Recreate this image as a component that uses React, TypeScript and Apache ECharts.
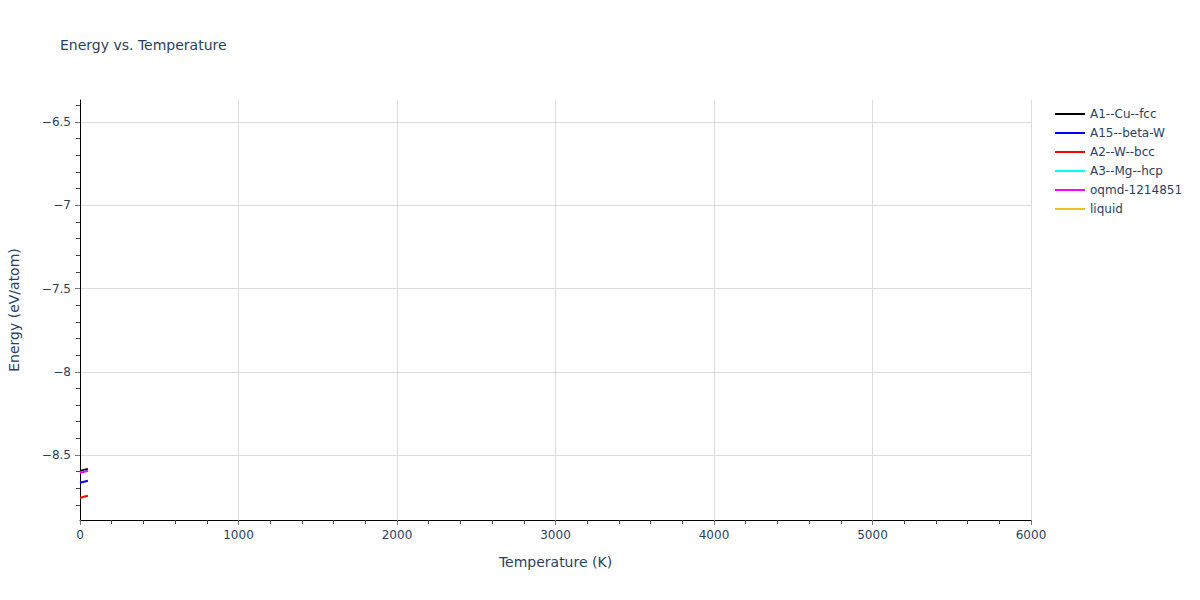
import React, { useEffect, useRef } from "react";
import * as echarts from "echarts";

const seriesNames = ["A1--Cu--fcc", "A15--beta-W", "A2--W--bcc", "A3--Mg--hcp", "oqmd-1214851", "liquid"];
const seriesColors = ["#000000", "#0000ff", "#ff0000", "#00ffff", "#ff00ff", "#f0c020"];
const temps = [0, 25, 50];
const a1Energy = [-8.595, -8.589, -8.583];
const a15Energy = [-8.666, -8.660, -8.654];
const a2Energy = [-8.756, -8.750, -8.744];
const a3Energy = [-8.606, -8.600, -8.594];
const oqmdEnergy = [-8.606, -8.600, -8.594];
const liquidEnergy: number[] = [];

const yMajorTicks = [-8.5, -8, -7.5, -7, -6.5];
const yMinorTicks = [-8.8, -8.7, -8.6, -8.4, -8.3, -8.2, -8.1, -7.9, -7.8, -7.7, -7.6, -7.4, -7.3, -7.2, -7.1, -6.9, -6.8, -6.7, -6.6, -6.4];

const FONT = '"DejaVu Sans", Verdana, sans-serif';
const TXT = "#2a3f5f";

export default function App() {
  const ref = useRef<HTMLDivElement>(null);
  useEffect(() => {
    if (!ref.current) return;
    const chart = echarts.init(ref.current, null, { renderer: "svg" });
    const values = [a1Energy, a15Energy, a2Energy, a3Energy, oqmdEnergy, liquidEnergy];
    const order = [0, 1, 2, 3, 4, 5];
    chart.setOption({
      animation: false,
      textStyle: { fontFamily: FONT },
      title: {
        text: "Energy vs. Temperature",
        left: 55,
        top: 33,
        textStyle: { fontFamily: FONT, fontSize: 14, fontWeight: "normal", color: TXT },
      },
      legend: {
        orient: "vertical",
        left: 1050,
        top: 102,
        icon: "rect",
        itemWidth: 30,
        itemHeight: 2,
        itemGap: 5,
        textStyle: { fontFamily: FONT, fontSize: 12, color: TXT, lineHeight: 14 },
        data: seriesNames,
      },
      grid: { left: 80, right: 169, top: 100, bottom: 80, outerBoundsMode: "none", containLabel: false },
      xAxis: {
        type: "value",
        min: 0,
        max: 6000,
        interval: 1000,
        name: "Temperature (K)",
        nameLocation: "middle",
        nameGap: 35,
        nameTextStyle: { fontFamily: FONT, fontSize: 14, color: TXT },
        axisLine: { show: true, onZero: false, lineStyle: { color: "#000", width: 1 } },
        axisTick: { show: true, length: 5, lineStyle: { color: "#777" } },
        minorTick: { show: true, splitNumber: 5, length: 4, lineStyle: { color: "#444" } },
        axisLabel: { margin: 9, fontFamily: FONT, fontSize: 12, color: TXT, formatter: (v: number) => String(v) },
        splitLine: { show: true, lineStyle: { color: "#dcdcdc", width: 1 } },
      },
      yAxis: [
        {
          type: "value",
          min: -8.89,
          max: -6.368,
          name: "Energy (eV/atom)",
          nameLocation: "middle",
          nameGap: 59,
          nameTextStyle: { fontFamily: FONT, fontSize: 14, color: TXT },
          axisLine: { show: true, onZero: false, lineStyle: { color: "#000", width: 1 } },
          axisTick: { show: true, length: 5, customValues: yMajorTicks, lineStyle: { color: "#777" } },
          axisLabel: {
            margin: 9,
            fontFamily: FONT,
            fontSize: 12,
            color: TXT,
            customValues: yMajorTicks,
            formatter: (v: number) => String(v).replace("-", "\u2212"),
          },
          splitLine: { show: true, lineStyle: { color: "#dcdcdc", width: 1 } },
        },
        {
          type: "value",
          min: -8.89,
          max: -6.368,
          position: "left",
          axisLine: { show: false },
          axisTick: { show: true, length: 4, customValues: yMinorTicks, lineStyle: { color: "#444" } },
          axisLabel: { show: false },
          splitLine: { show: false },
        },
      ],
      series: order.map((i) => ({
        name: seriesNames[i],
        type: "line",
        yAxisIndex: 0,
        showSymbol: false,
        symbol: "none",
        color: seriesColors[i],
        lineStyle: { width: 2, color: seriesColors[i] },
        data: values[i].map((v, k) => [temps[k], v]),
      })),
    });
    return () => chart.dispose();
  }, []);
  return <div ref={ref} style={{ position: "absolute", left: 0, top: 0, width: 1200, height: 600 }} />;
}
